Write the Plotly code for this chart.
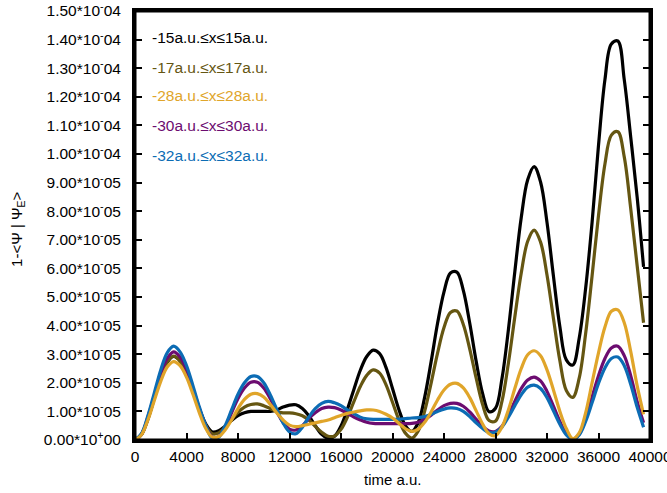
import plotly.graph_objects as go

# time grid (a.u.)
time = list(range(0, 39501, 500))

# values in units of 1e-5
s15 = [0.0, 0.19, 0.73, 1.46, 2.19, 2.72, 2.92, 2.77, 2.33, 1.72,
       1.08, 0.56, 0.28, 0.32, 0.48, 0.68, 0.85, 0.95, 1.0, 1.0,
       1.0, 1.0, 1.05, 1.15, 1.22, 1.23, 1.1, 0.85, 0.5, 0.2,
       0.05, 0.13, 0.49, 1.08, 1.77, 2.44, 2.92, 3.14, 3.02, 2.53,
       1.8, 1.06, 0.5, 0.3, 0.61, 1.5, 2.74, 4.08, 5.18, 5.84,
       5.87, 5.23, 4.08, 2.75, 1.62, 0.99, 1.11, 2.14, 3.85, 5.88,
       7.78, 9.1, 9.56, 9.02, 7.61, 5.73, 3.96, 2.8, 2.62, 3.56,
       5.3, 7.6, 10.3, 12.6, 13.85, 13.95, 12.6, 10.6, 8.5, 6.05]
s17 = [0.0, 0.19, 0.74, 1.47, 2.2, 2.73, 2.93, 2.75, 2.3, 1.7,
       1.05, 0.52, 0.22, 0.25, 0.45, 0.72, 0.97, 1.15, 1.24, 1.26,
       1.2, 1.1, 1.0, 0.95, 0.95, 0.92, 0.85, 0.7, 0.48, 0.27,
       0.13, 0.14, 0.37, 0.8, 1.34, 1.87, 2.26, 2.45, 2.34, 1.93,
       1.32, 0.7, 0.24, 0.07, 0.32, 1.01, 1.99, 3.04, 3.93, 4.46,
       4.51, 4.04, 3.18, 2.16, 1.24, 0.68, 0.66, 1.35, 2.68, 4.3,
       5.84, 6.95, 7.34, 6.92, 5.77, 4.25, 2.77, 1.73, 1.49, 2.16,
       3.72, 5.73, 7.85, 9.65, 10.66, 10.78, 9.9, 8.1, 6.1, 4.1]
s28 = [0.0, 0.18, 0.7, 1.38, 2.05, 2.55, 2.74, 2.6, 2.2, 1.6,
       0.95, 0.4, 0.1, 0.12, 0.35, 0.7, 1.1, 1.42, 1.6, 1.62,
       1.5, 1.25, 0.95, 0.7, 0.52, 0.47, 0.5, 0.55, 0.6, 0.65,
       0.7, 0.78, 0.86, 0.93, 0.98, 1.02, 1.05, 1.05, 1.0, 0.9,
       0.77, 0.58, 0.4, 0.3, 0.38, 0.62, 0.98, 1.4, 1.75, 1.95,
       1.98, 1.82, 1.48, 1.02, 0.56, 0.22, 0.15, 0.45, 1.05, 1.8,
       2.5, 2.98, 3.12, 2.95, 2.45, 1.75, 1.0, 0.4, 0.05, 0.25,
       0.95, 2.0, 3.05, 3.95, 4.5, 4.55, 4.1, 3.1, 1.9, 0.9]
s30 = [0.0, 0.2, 0.8, 1.55, 2.3, 2.85, 3.08, 2.9, 2.45, 1.8,
       1.1, 0.5, 0.1, 0.12, 0.45, 0.95, 1.45, 1.82, 2.02, 2.02,
       1.82, 1.45, 1.0, 0.62, 0.38, 0.35, 0.5, 0.75, 0.95, 1.1,
       1.15, 1.13, 1.05, 0.93, 0.8, 0.7, 0.62, 0.58, 0.57, 0.57,
       0.57, 0.57, 0.57, 0.58, 0.62, 0.72, 0.87, 1.05, 1.2, 1.28,
       1.28, 1.18, 0.98, 0.72, 0.48, 0.31, 0.3, 0.48, 0.88, 1.35,
       1.8, 2.1, 2.2, 2.07, 1.7, 1.18, 0.65, 0.22, 0.03, 0.2,
       0.75, 1.5, 2.25, 2.85, 3.22, 3.28, 2.95, 2.25, 1.35, 0.6]
s32 = [0.0, 0.22, 0.85, 1.65, 2.45, 3.05, 3.28, 3.08, 2.6, 1.9,
       1.15, 0.5, 0.06, 0.1, 0.5, 1.05, 1.6, 2.0, 2.22, 2.22,
       2.0, 1.58, 1.08, 0.6, 0.28, 0.22, 0.45, 0.8, 1.1, 1.28,
       1.35, 1.3, 1.2, 1.05, 0.92, 0.8, 0.74, 0.72, 0.72, 0.72,
       0.72, 0.73, 0.75, 0.77, 0.78, 0.82, 0.9, 1.0, 1.08, 1.12,
       1.1, 1.0, 0.82, 0.6, 0.4, 0.26, 0.27, 0.45, 0.8, 1.2,
       1.58, 1.85, 1.92, 1.8, 1.48, 1.02, 0.55, 0.18, 0.02, 0.18,
       0.65, 1.3, 1.98, 2.52, 2.85, 2.9, 2.6, 1.95, 1.15, 0.45]

labels = ["-15a.u.≤x≤15a.u.", "-17a.u.≤x≤17a.u.", "-28a.u.≤x≤28a.u.",
          "-30a.u.≤x≤30a.u.", "-32a.u.≤x≤32a.u."]
colors = ["#000000", "#655612", "#e0a52a", "#6c0c70", "#0c6cb4"]
series = [s15, s17, s28, s30, s32]

ytickvals = list(range(0, 16))
yticktext = ["0.00*10<sup>+</sup>00"] + \
    [f"{v}.00*10<sup>-</sup>05" for v in range(1, 10)] + \
    [f"1.{v}0*10<sup>-</sup>04" for v in range(0, 6)]
xtickvals = list(range(0, 40001, 4000))

FONT = "Liberation Sans, Arial, sans-serif"

fig = go.Figure()
order = [0, 1, 3, 4, 2]
for i in order:
    fig.add_trace(go.Scatter(x=time, y=series[i], mode="lines",
                             line=dict(color=colors[i], width=3.2, shape="spline"),
                             name=labels[i], showlegend=False))

legend_y = [0.939, 0.869, 0.802, 0.734, 0.664]
for i in range(5):
    fig.add_annotation(x=0.029, y=legend_y[i], xref="paper", yref="paper",
                       text=labels[i], showarrow=False, xanchor="left", yanchor="middle",
                       font=dict(family=FONT, size=15.5, color=colors[i]))

fig.add_annotation(x=-0.227, y=0.49, xref="paper", yref="paper",
                   text="1-&lt;Ψ | Ψ<sub>E</sub>&gt;", textangle=-90, showarrow=False,
                   xanchor="center", yanchor="middle",
                   font=dict(family=FONT, size=15, color="black"))
fig.add_annotation(x=0.5, y=-0.093, xref="paper", yref="paper",
                   text="time a.u.", showarrow=False, xanchor="center", yanchor="middle",
                   font=dict(family=FONT, size=15, color="black"))

# plot frame
fig.add_shape(type="rect", xref="paper", yref="paper", x0=0, x1=1, y0=0, y1=1,
              line=dict(color="black", width=3), layer="above")

fig.update_layout(
    width=667, height=493,
    margin=dict(l=135, r=17, t=11, b=53, autoexpand=False),
    paper_bgcolor="white", plot_bgcolor="white",
    font=dict(family=FONT, size=15.5, color="black"),
    xaxis=dict(range=[0, 40000], tickvals=xtickvals, ticktext=[str(v) for v in xtickvals],
               showgrid=False, zeroline=False, showline=True, linewidth=3, linecolor="black",
               mirror=True, ticks="inside", ticklen=7, tickwidth=2, tickcolor="black",
               ticklabeloverflow="allow", automargin=False),
    yaxis=dict(range=[0, 15], tickvals=ytickvals, ticktext=yticktext,
               showgrid=False, zeroline=False, showline=True, linewidth=3, linecolor="black",
               mirror="ticks", ticks="inside", ticklen=7, tickwidth=2, tickcolor="black",
               ticklabelstandoff=8, ticklabeloverflow="allow", automargin=False),
)

fig.write_html("out.html")
